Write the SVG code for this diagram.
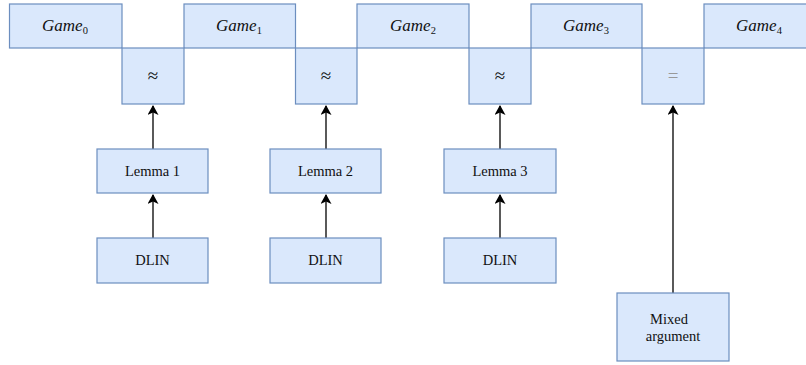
<svg xmlns="http://www.w3.org/2000/svg" width="806" height="365" viewBox="0 0 806 365">
<style>
.b{fill:#dae8fc;stroke:#6c8ebf;stroke-width:1.2}
.t{font-family:"Liberation Serif",serif;font-size:14.5px;fill:#111;text-anchor:middle}
.g{font-style:italic;font-size:17px}
.s{font-style:normal;font-size:10.5px}
.a{font-size:19px}
.c{stroke:#000;stroke-width:1.3;fill:none}
</style>
<defs>
<marker id="ah" markerWidth="11" markerHeight="11" refX="9" refY="5.5" orient="auto" markerUnits="userSpaceOnUse">
<path d="M0,0 L10,5.5 L0,11 L2.5,5.5 Z" fill="#000"/>
</marker>
</defs>
<g id="connectors">
<line class="c" x1="153" y1="149" x2="153" y2="106" marker-end="url(#ah)"/>
<line class="c" x1="153" y1="238" x2="153" y2="195" marker-end="url(#ah)"/>
<line class="c" x1="326" y1="149" x2="326" y2="106" marker-end="url(#ah)"/>
<line class="c" x1="326" y1="238" x2="326" y2="195" marker-end="url(#ah)"/>
<line class="c" x1="500" y1="149" x2="500" y2="106" marker-end="url(#ah)"/>
<line class="c" x1="500" y1="238" x2="500" y2="195" marker-end="url(#ah)"/>
<line class="c" x1="673" y1="293" x2="673" y2="106" marker-end="url(#ah)"/>
</g>
<g id="game0"><rect class="b" x="9.5" y="4" width="112.5" height="44"/><text class="t g" x="65" y="31">Game<tspan class="s" dy="3">0</tspan></text></g>
<g id="game1"><rect class="b" x="184" y="4" width="111.5" height="44"/><text class="t g" x="239" y="31">Game<tspan class="s" dy="3">1</tspan></text></g>
<g id="game2"><rect class="b" x="357" y="4" width="112" height="44"/><text class="t g" x="413" y="31">Game<tspan class="s" dy="3">2</tspan></text></g>
<g id="game3"><rect class="b" x="531" y="4" width="111" height="44"/><text class="t g" x="586" y="31">Game<tspan class="s" dy="3">3</tspan></text></g>
<g id="game4"><rect class="b" x="704" y="4" width="112" height="44"/><text class="t g" x="759" y="31">Game<tspan class="s" dy="3">4</tspan></text></g>
<g id="approx1"><rect class="b" x="122" y="48" width="62" height="56"/><text class="t a" x="153" y="82">≈</text></g>
<g id="approx2"><rect class="b" x="295.5" y="48" width="61.5" height="56"/><text class="t a" x="326" y="82">≈</text></g>
<g id="approx3"><rect class="b" x="469" y="48" width="62" height="56"/><text class="t a" x="500" y="82">≈</text></g>
<g id="equal"><rect class="b" x="642" y="48" width="62" height="56"/><text class="t a" x="673" y="82" style="fill:#999">=</text></g>
<g id="lemma1"><rect class="b" x="97" y="149" width="111" height="44"/><text class="t" x="152.5" y="176">Lemma 1</text></g>
<g id="lemma2"><rect class="b" x="270" y="149" width="111" height="44"/><text class="t" x="325.5" y="176">Lemma 2</text></g>
<g id="lemma3"><rect class="b" x="444" y="149" width="112" height="44"/><text class="t" x="500" y="176">Lemma 3</text></g>
<g id="dlin1"><rect class="b" x="97" y="238" width="111" height="45"/><text class="t" x="152.5" y="265">DLIN</text></g>
<g id="dlin2"><rect class="b" x="270" y="238" width="111" height="45"/><text class="t" x="325.5" y="265">DLIN</text></g>
<g id="dlin3"><rect class="b" x="444" y="238" width="112" height="45"/><text class="t" x="500" y="265">DLIN</text></g>
<g id="mixed"><rect class="b" x="617" y="293" width="112" height="68"/><text class="t" x="669" y="324">Mixed</text><text class="t" x="673" y="341">argument</text></g>
</svg>
